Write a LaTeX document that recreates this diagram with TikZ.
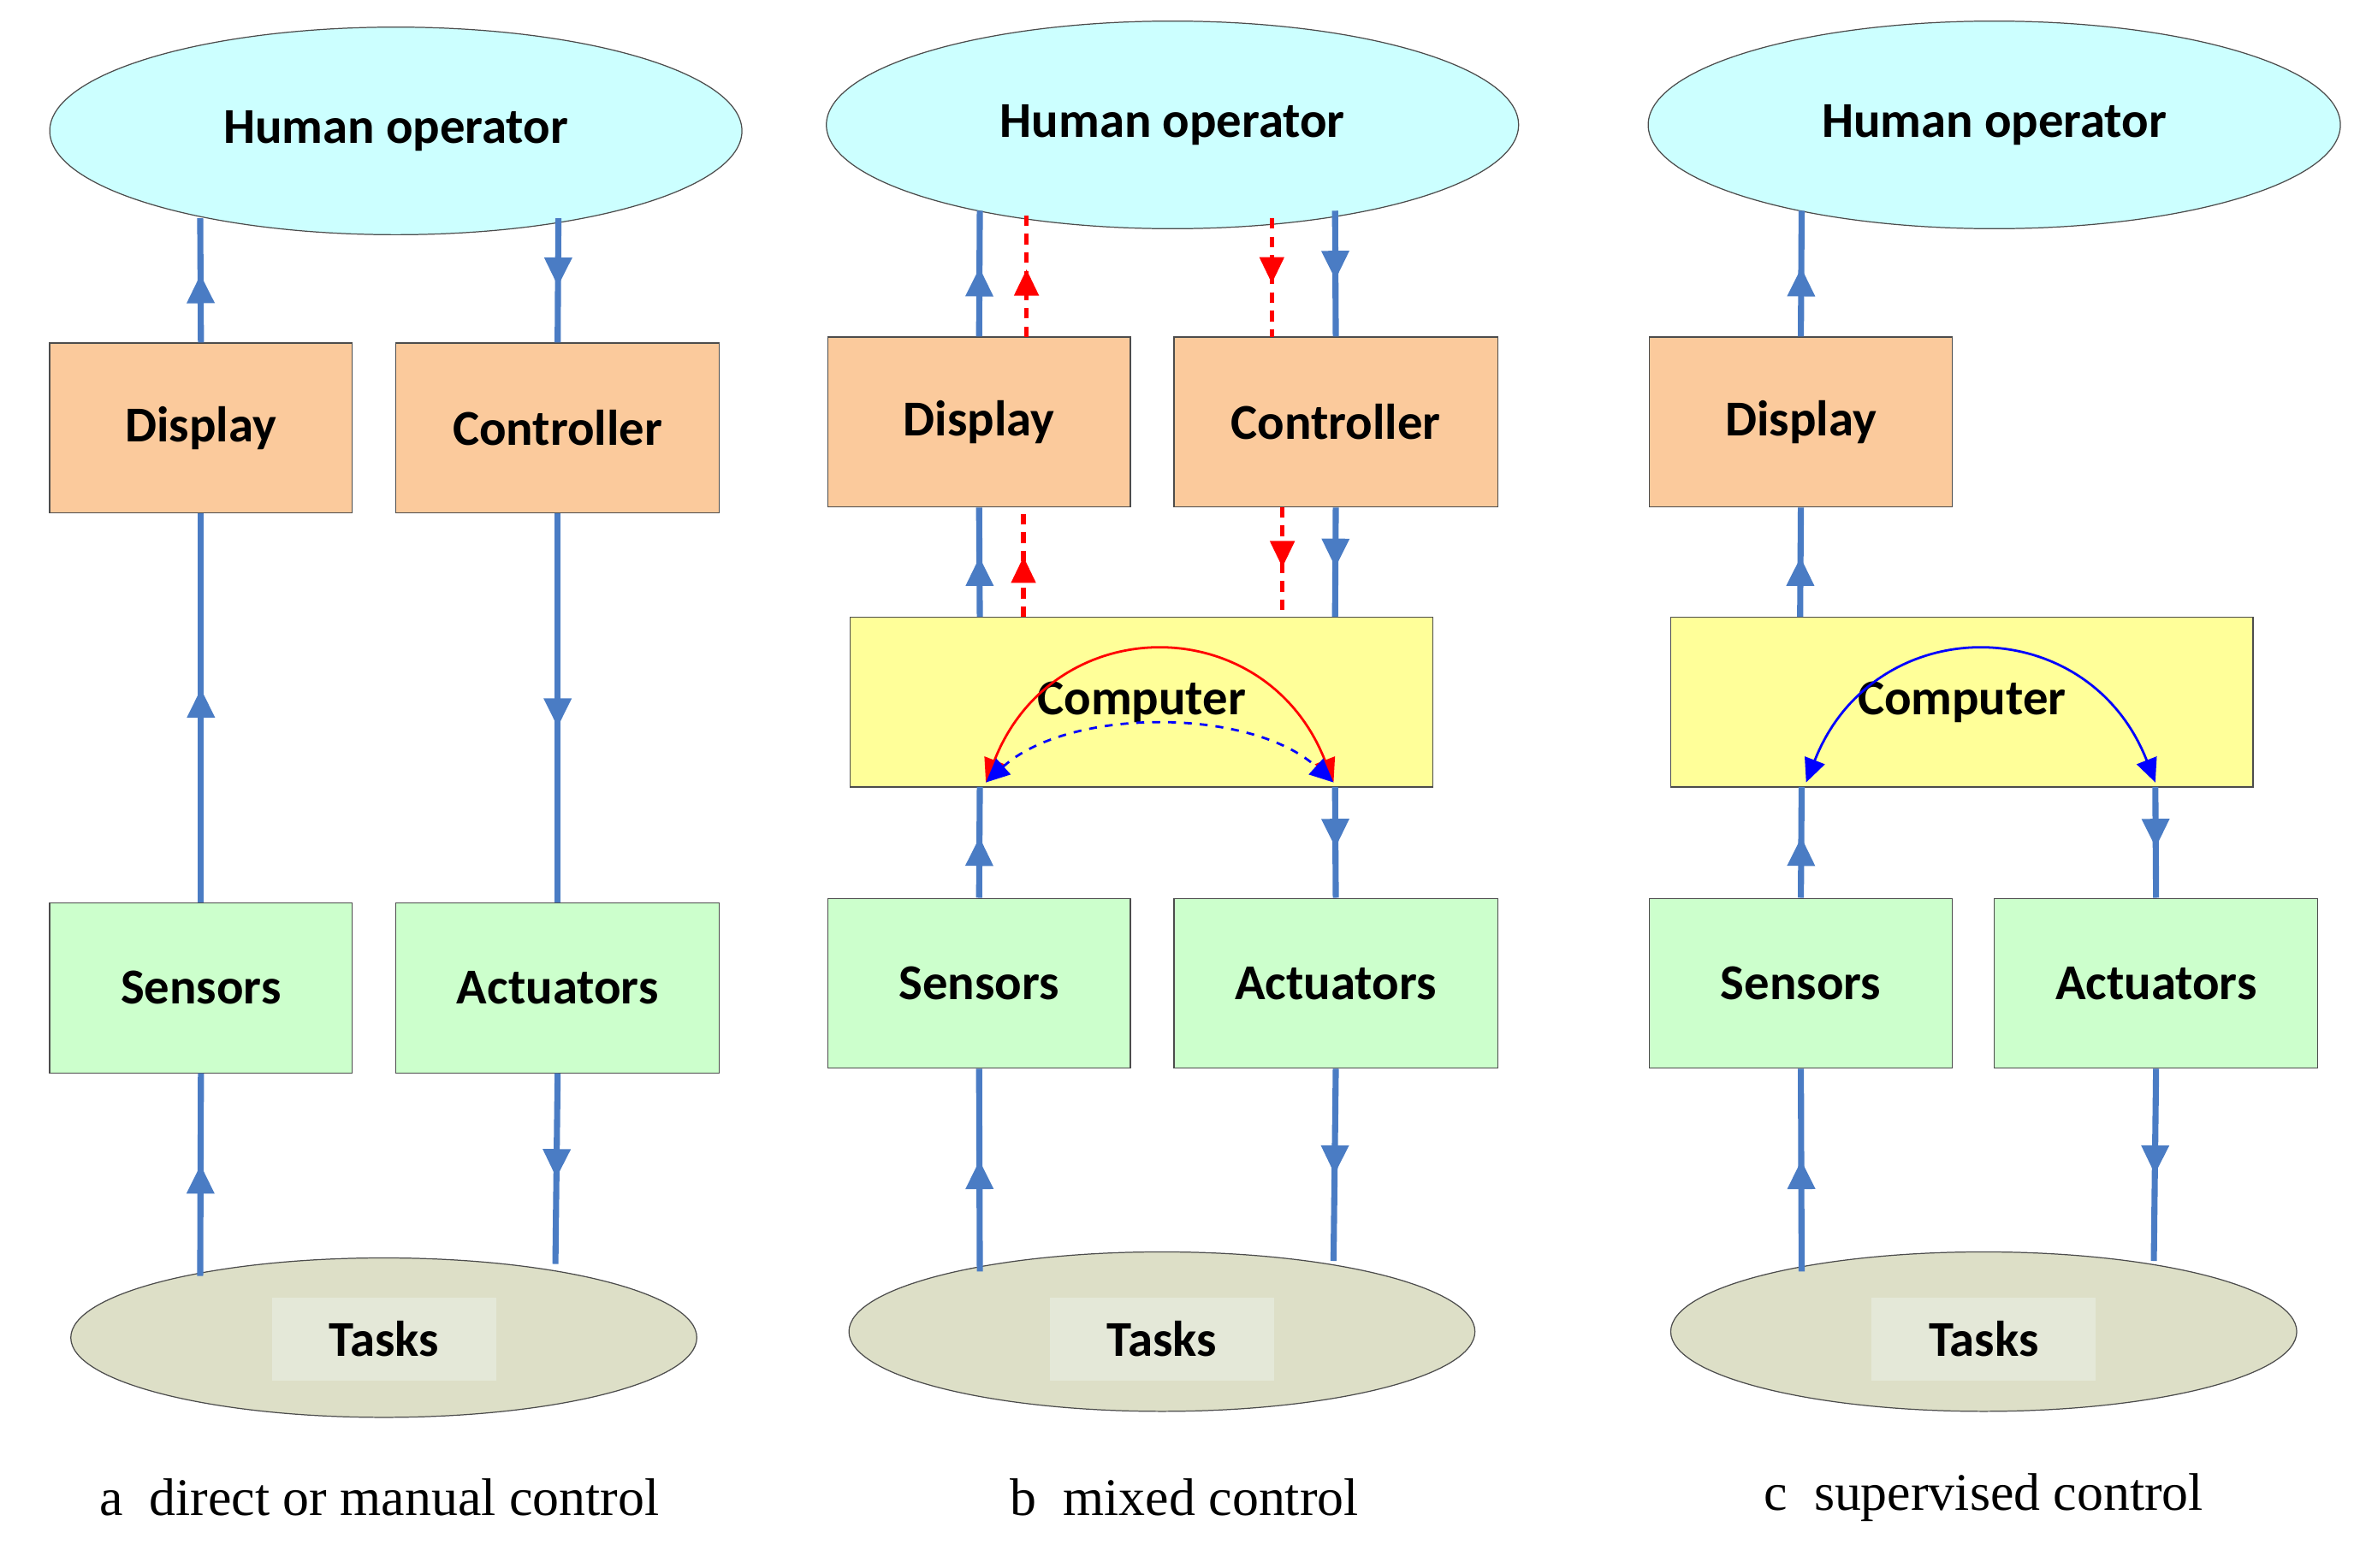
\documentclass[tikz,border=0pt]{standalone}
\usepackage{fontspec}
\setmainfont{Liberation Serif}
\newfontfamily\lbl{Carlito}
\usetikzlibrary{shapes.geometric,arrows.meta,decorations.markings}
\definecolor{hum}{HTML}{CCFFFF}
\definecolor{org}{HTML}{FBCA9C}
\definecolor{grn}{HTML}{CCFFCC}
\definecolor{yel}{HTML}{FFFF99}
\definecolor{tsk}{HTML}{DDDFC7}
\definecolor{tsl}{HTML}{E4E8D8}
\definecolor{bl}{HTML}{4A7CC4}
\begin{document}
\begin{tikzpicture}[x=0.02cm,y=-0.02cm,
  txt/.style={font=\lbl\fontsize{19}{22}\bfseries\selectfont},
  human/.style={ellipse,draw=black!70,fill=hum,minimum width=9.2cm,minimum height=2.76cm,txt},
  task/.style={ellipse,draw=black!70,fill=tsk,minimum width=8.32cm,minimum height=2.12cm},
  tlab/.style={fill=tsl,minimum width=2.98cm,minimum height=1.1cm,txt},
  box/.style={draw=black!70,minimum height=2.26cm,txt},
  dbox/.style={box,fill=org,minimum width=4.02cm},
  cbox/.style={box,fill=org,minimum width=4.3cm},
  sbox/.style={box,fill=grn,minimum width=4.02cm},
  abox/.style={box,fill=grn,minimum width=4.3cm},
  comp/.style={box,fill=yel,minimum width=7.74cm},
  flow/.style={draw=bl,line width=2.3pt,postaction={decorate},
    decoration={markings,mark=at position 0.55 with {\arrow{Triangle[length=11pt,width=10pt]}}}},
  rflow/.style={draw=red,line width=1.8pt,dash pattern=on 4pt off 3pt,postaction={decorate},
    decoration={markings,mark=at position 0.55 with {\arrow[solid]{Triangle[length=10pt,width=9pt]}}}},
  captxt/.style={font=\fontsize{20}{24}\selectfont}]
\useasboundingbox (0,0) rectangle (1568,1042);
% ---------- panel a
\node[human] (hA) at (263,87) {Human operator};
\node[dbox] (dA) at (133.5,284.5) {Display};
\node[cbox] (cA) at (370.5,284.5) {Controller};
\node[sbox] (sA) at (133.5,656.5) {Sensors};
\node[abox] (aA) at (370.5,656.5) {Actuators};
\node[task] (tA) at (255,889) {};
\node[tlab] (tlA) at (255,890) {Tasks};
\coordinate (hA1) at (133,145); \coordinate (hA2) at (371,145);
\coordinate (tA1) at (133,848); \coordinate (tA2) at (369,840);
\draw[flow] (dA.north) -- (hA1);
\draw[flow] (sA.north) -- (dA.south);
\draw[flow] (tA1) -- (sA.south);
\draw[flow] (hA2) -- (cA.north);
\draw[flow] (cA.south) -- (aA.north);
\draw[flow] (aA.south) -- (tA2);
\node[captxt] (capA) at (252,995) {a\ \ direct or manual control};
% ---------- panel b
\node[human] (hB) at (779,83) {Human operator};
\node[dbox] (dB) at (650.5,280.5) {Display};
\node[cbox] (cB) at (887.5,280.5) {Controller};
\node[comp] (pB) at (758.5,466.5) {Computer};
\node[sbox] (sB) at (650.5,653.5) {Sensors};
\node[abox] (aB) at (887.5,653.5) {Actuators};
\node[task] (tB) at (772,885) {};
\node[tlab] (tlB) at (772,890) {Tasks};
\coordinate (hB1) at (651,140); \coordinate (hB2) at (887,140);
\coordinate (hB3) at (682,142); \coordinate (hB4) at (845,145);
\coordinate (tB1) at (651,845); \coordinate (tB2) at (886,838);
\coordinate (pB1) at (651,410); \coordinate (pB2) at (887,410);
\coordinate (pB3) at (651,523); \coordinate (pB4) at (887,523);
\coordinate (pB5) at (680,410); \coordinate (pB6) at (852,410);
\coordinate (dB3) at (682,224); \coordinate (dB5) at (680,337);
\coordinate (cB4) at (845,224); \coordinate (cB6) at (852,337);
\draw[flow] (dB.north) -- (hB1);
\draw[flow] (pB1) -- (dB.south);
\draw[flow] (sB.north) -- (pB3);
\draw[flow] (tB1) -- (sB.south);
\draw[flow] (hB2) -- (cB.north);
\draw[flow] (cB.south) -- (pB2);
\draw[flow] (pB4) -- (aB.north);
\draw[flow] (aB.south) -- (tB2);
\draw[rflow] (dB3) -- (hB3);
\draw[rflow] (pB5) -- (dB5);
\draw[rflow] (hB4) -- (cB4);
\draw[rflow] (cB6) -- (pB6);
\coordinate (kB1) at (655,520); \coordinate (kB2) at (886,520);
\draw[red,line width=0.9pt,{Triangle[length=9pt,width=8pt]}-{Triangle[length=9pt,width=8pt]}]
  (kB1) .. controls (700,405) and (841,405) .. (kB2);
\draw[blue,dashed,line width=0.9pt,{Triangle[length=9pt,width=8pt]}-{Triangle[length=9pt,width=8pt]}]
  (kB1) .. controls (710,470) and (831,470) .. (kB2);
\node[captxt] (capB) at (787,995) {b\ \ mixed control};
% ---------- panel c
\node[human] (hC) at (1325,83) {Human operator};
\node[dbox] (dC) at (1196.5,280.5) {Display};
\node[comp] (pC) at (1303.5,466.5) {Computer};
\node[sbox] (sC) at (1196.5,653.5) {Sensors};
\node[abox] (aC) at (1432.5,653.5) {Actuators};
\node[task] (tC) at (1318,885) {};
\node[tlab] (tlC) at (1318,890) {Tasks};
\coordinate (hC1) at (1197,140);
\coordinate (pC1) at (1196,410); \coordinate (pC3) at (1197,523); \coordinate (pC4) at (1432,523);
\coordinate (tC1) at (1197,845); \coordinate (tC2) at (1431,838);
\draw[flow] (dC.north) -- (hC1);
\draw[flow] (pC1) -- (dC.south);
\draw[flow] (sC.north) -- (pC3);
\draw[flow] (tC1) -- (sC.south);
\draw[flow] (pC4) -- (aC.north);
\draw[flow] (aC.south) -- (tC2);
\coordinate (kC1) at (1200,520); \coordinate (kC2) at (1432,520);
\draw[blue,line width=0.9pt,{Triangle[length=9pt,width=8pt]}-{Triangle[length=9pt,width=8pt]}]
  (kC1) .. controls (1245,405) and (1387,405) .. (kC2);
\node[captxt] (capC) at (1318,995) {c\ \ supervised control};
\end{tikzpicture}
\end{document}
